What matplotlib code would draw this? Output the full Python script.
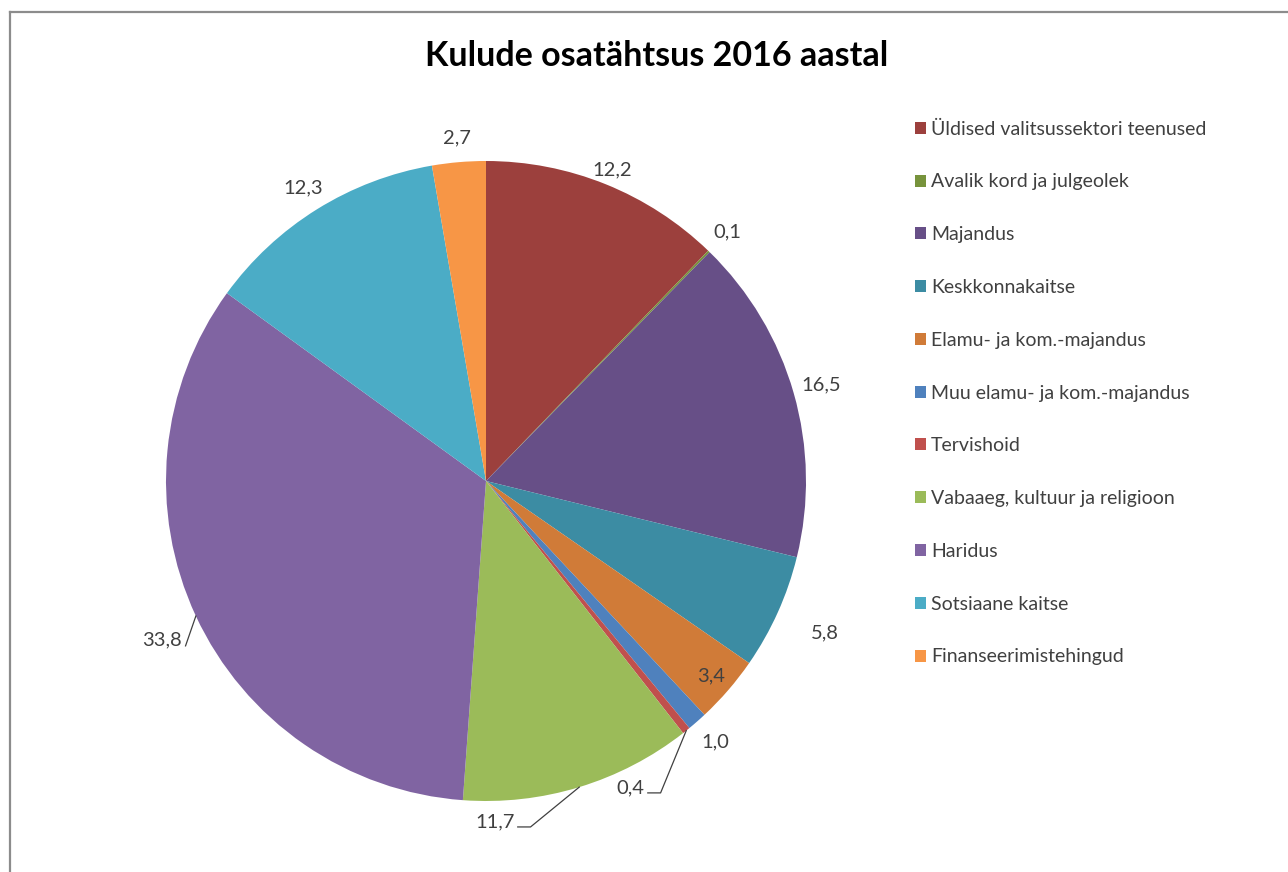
import numpy as np
import matplotlib.pyplot as plt
from matplotlib.lines import Line2D
from matplotlib.patches import Patch

plt.rcParams["font.family"] = ["Lato", "DejaVu Sans"]

# ── Data ──
categories = [
    "Üldised valitsussektori teenused",
    "Avalik kord ja julgeolek",
    "Majandus",
    "Keskkonnakaitse",
    "Elamu- ja kom.-majandus",
    "Muu elamu- ja kom.-majandus",
    "Tervishoid",
    "Vabaaeg, kultuur ja religioon",
    "Haridus",
    "Sotsiaane kaitse",
    "Finanseerimistehingud",
]
values = [12.2, 0.1, 16.5, 5.8, 3.4, 1.0, 0.4, 11.7, 33.8, 12.3, 2.7]
value_labels = ["12,2", "0,1", "16,5", "5,8", "3,4", "1,0", "0,4", "11,7", "33,8", "12,3", "2,7"]
colors = [
    "#9c403d", "#77933c", "#674f87", "#3c8ca3", "#d07b38", "#4f81bd",
    "#c0504d", "#9bbb59", "#8064a2", "#4bacc6", "#f79646",
]

# label placement: distance from centre (in radii) and angle shift (deg)
label_dist = [1.05, 1.083, 1.09, 1.16, 0.93, 1.085, 1.117, 1.09, 1.071, 1.08, 1.075]
label_shift = [0, 0, 0, 0, 0, 0, 9.5, 9.6, -3.8, 0, 0]
leader = [False] * 6 + [True, True, True, False, False]

W, H = 1288, 872
fig = plt.figure(figsize=(W / 100, H / 100), dpi=100)

# chart-area frame (right/bottom edges fall outside the picture)
fig.add_artist(Line2D([9.5 / W, 9.5 / W], [0, 1 - 12 / H], color="#8c8c8c", lw=1.6))
fig.add_artist(Line2D([9.5 / W, 1], [1 - 12 / H, 1 - 12 / H], color="#8c8c8c", lw=1.6))

cx, cy, R = 486, 481, 320
ax = fig.add_axes([(cx - R) / W, (H - cy - R) / H, 2 * R / W, 2 * R / H])
wedges, _ = ax.pie(
    values,
    colors=colors,
    startangle=90,
    counterclock=False,
    radius=1.0,
    wedgeprops=dict(linewidth=0),
)
ax.set_xlim(-1, 1)
ax.set_ylim(-1, 1)
ax.set_aspect("equal")
ax.axis("off")

# ── Data labels ──
fs = 14.5
for w, txt, d, sh, has_leader in zip(wedges, value_labels, label_dist, label_shift, leader):
    mid = np.deg2rad((w.theta1 + w.theta2) / 2)
    ang = mid - np.deg2rad(sh)
    px, py = d * np.cos(ang), d * np.sin(ang)
    if has_leader:
        ex, ey = np.cos(mid), np.sin(mid)
        if px > 0:
            hx = px - 0.04
            ax.plot([ex, px, hx], [ey, py, py], color="#404040", lw=0.9, clip_on=False)
            ax.text(hx - 0.01, py + 0.015, txt, ha="right", va="center",
                    fontsize=fs, color="#404040")
        else:
            ax.plot([ex, px], [ey, py], color="#404040", lw=0.9, clip_on=False)
            ax.text(px - 0.01, py + 0.02, txt, ha="right", va="center",
                    fontsize=fs, color="#404040")
    else:
        ax.text(px, py, txt, ha="center", va="center", fontsize=fs, color="#404040")

fig.text(657 / W, 1 - 56 / H, "Kulude osatähtsus 2016 aastal",
         ha="center", va="center", fontsize=24.5, fontweight="bold", color="black")

# ── Legend ──
handles = [Patch(facecolor=c, edgecolor="none") for c in colors]
fig.legend(
    handles, categories,
    loc="upper left",
    bbox_to_anchor=(897 / W, 1 - 103 / H),
    frameon=False,
    fontsize=14,
    handlelength=0.58,
    handleheight=0.58,
    handletextpad=0.28,
    labelspacing=1.84,
    labelcolor="#404040",
)

fig.savefig("out.png", dpi=100)
